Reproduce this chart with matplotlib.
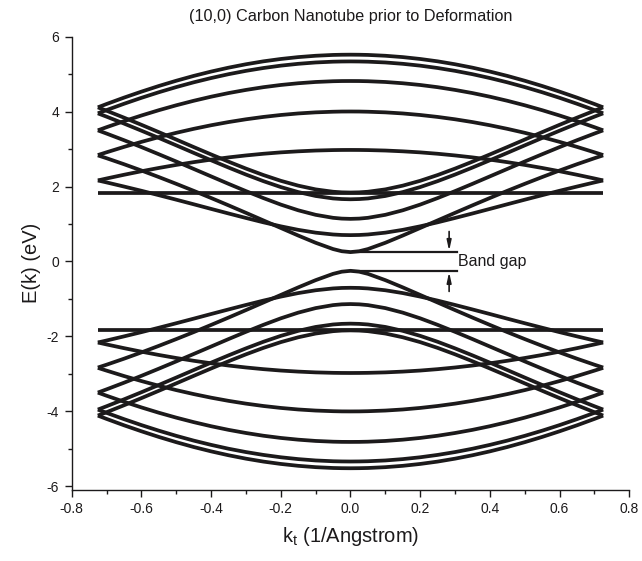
import numpy as np
import matplotlib
matplotlib.use("Agg")
import matplotlib.pyplot as plt
from matplotlib.ticker import MultipleLocator

plt.rcParams['font.family'] = ['Liberation Sans', 'DejaVu Sans']

# k points (1/Angstrom), right half of the zone; mirrored for k < 0
k_half = [0.0, 0.025, 0.05, 0.1, 0.15, 0.2, 0.25, 0.3, 0.35, 0.4,
          0.45, 0.5, 0.55, 0.6, 0.65, 0.7, 0.725]

# conduction bands E(k) in eV (valence = mirror image)
band_a = [5.520, 5.518, 5.513, 5.491, 5.455, 5.405, 5.342, 5.264, 5.173,
          5.069, 4.953, 4.824, 4.684, 4.533, 4.373, 4.203, 4.114]
band_b = [5.340, 5.338, 5.333, 5.312, 5.276, 5.227, 5.164, 5.088, 4.999,
          4.896, 4.782, 4.655, 4.517, 4.368, 4.209, 4.041, 3.954]
band_c = [4.817, 4.816, 4.811, 4.791, 4.757, 4.711, 4.652, 4.579, 4.495,
          4.398, 4.289, 4.169, 4.038, 3.896, 3.745, 3.584, 3.500]
band_d = [4.003, 4.002, 3.997, 3.980, 3.951, 3.910, 3.858, 3.795, 3.721,
          3.636, 3.540, 3.434, 3.318, 3.192, 3.058, 2.914, 2.840]
band_e = [2.977, 2.976, 2.973, 2.961, 2.940, 2.912, 2.875, 2.830, 2.778,
          2.718, 2.651, 2.577, 2.496, 2.408, 2.314, 2.215, 2.163]
band_f = [1.840, 1.840, 1.840, 1.840, 1.840, 1.840, 1.840, 1.840, 1.840,
          1.840, 1.840, 1.840, 1.840, 1.840, 1.840, 1.840, 1.840]
band_g = [0.703, 0.707, 0.720, 0.769, 0.844, 0.938, 1.045, 1.161, 1.281,
          1.403, 1.527, 1.649, 1.769, 1.887, 2.000, 2.110, 2.163]
band_h = [0.250, 0.273, 0.331, 0.499, 0.692, 0.894, 1.096, 1.298, 1.498,
          1.694, 1.886, 2.072, 2.253, 2.428, 2.596, 2.756, 2.832]
band_i = [1.137, 1.144, 1.165, 1.245, 1.366, 1.518, 1.692, 1.878, 2.072,
          2.271, 2.470, 2.668, 2.862, 3.053, 3.237, 3.414, 3.500]
band_j = [1.660, 1.666, 1.682, 1.748, 1.852, 1.986, 2.144, 2.320, 2.507,
          2.701, 2.899, 3.099, 3.297, 3.491, 3.681, 3.865, 3.954]
band_k = [1.840, 1.845, 1.861, 1.924, 2.024, 2.153, 2.307, 2.479, 2.664,
          2.857, 3.054, 3.254, 3.452, 3.648, 3.839, 4.024, 4.114]

conduction = [band_a, band_b, band_c, band_d, band_e, band_f,
              band_g, band_h, band_i, band_j, band_k]

# band-gap marker
gap_top = 0.25
gap_bottom = -0.25
gap_k_end = 0.305
arrow_k = 0.283

ink = '#1c1a1b'

fig = plt.figure(figsize=(6.42, 5.61), dpi=100)
ax = fig.add_axes([0.1117, 0.1266, 0.8685, 0.808])

kh = np.array(k_half)
k_full = np.concatenate([-kh[::-1], kh[1:]])
for band in conduction:
    e = np.array(band)
    e_full = np.concatenate([e[::-1], e[1:]])
    ax.plot(k_full, e_full, color=ink, lw=2.7, solid_capstyle='butt')
    ax.plot(k_full, -e_full, color=ink, lw=2.7, solid_capstyle='butt')

ax.plot([0, gap_k_end], [gap_top, gap_top], color=ink, lw=1.6)
ax.plot([0, gap_k_end], [gap_bottom, gap_bottom], color=ink, lw=1.6)
arrow_style = dict(arrowstyle='-|>,head_length=0.6,head_width=0.13',
                   color=ink, lw=1.2, shrinkA=0, shrinkB=0)
ax.annotate('', xy=(arrow_k, gap_top + 0.03), xytext=(arrow_k, 0.8),
            arrowprops=arrow_style)
ax.annotate('', xy=(arrow_k, gap_bottom - 0.03), xytext=(arrow_k, -0.8),
            arrowprops=arrow_style)
ax.text(gap_k_end + 0.003, 0.0, 'Band gap', fontsize=11.5, ha='left',
        va='center', color=ink)

ax.set_xlim(-0.8, 0.8)
ax.set_ylim(-6.1, 6)
ax.xaxis.set_major_locator(MultipleLocator(0.2))
ax.xaxis.set_minor_locator(MultipleLocator(0.1))
ax.yaxis.set_major_locator(MultipleLocator(2))
ax.yaxis.set_minor_locator(MultipleLocator(1))
ax.xaxis.set_major_formatter(plt.FuncFormatter(lambda v, p: f"{v:.1f}"))
ax.yaxis.set_major_formatter(plt.FuncFormatter(lambda v, p: f"{v:.0f}"))
for s in ['top', 'right']:
    ax.spines[s].set_visible(False)
for s in ['left', 'bottom']:
    ax.spines[s].set_linewidth(1.0)
    ax.spines[s].set_color(ink)
ax.tick_params(which='major', direction='out', length=5, width=1,
               labelsize=10, colors=ink, pad=4)
ax.tick_params(which='minor', direction='out', length=3, width=1, colors=ink)

ax.set_title('(10,0) Carbon Nanotube prior to Deformation', fontsize=11.7,
             pad=11, color=ink)
ax.set_xlabel(r'k$_\mathregular{t}$ (1/Angstrom)', fontsize=14.5,
              labelpad=6, color=ink)
ax.set_ylabel('E(k) (eV)', fontsize=14.5, labelpad=4, color=ink)

fig.savefig('out.png', dpi=100)
